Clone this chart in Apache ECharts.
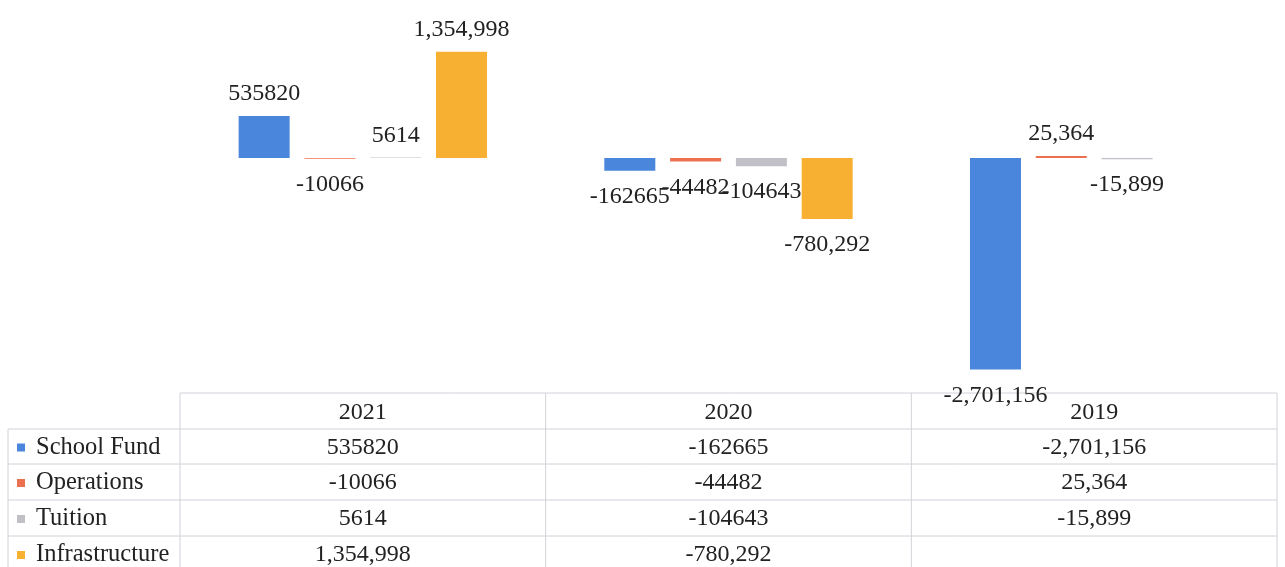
<!DOCTYPE html>
<html>
<head>
<meta charset="utf-8">
<script src="https://cdn.jsdelivr.net/npm/echarts@6/dist/echarts.min.js"></script>
<style>
  html, body { margin: 0; padding: 0; background: #fff; }
  #chart { width: 1285px; height: 567px; }
</style>
</head>
<body>
<div id="chart"></div>
<script>
// categories (table header)
const years = ['2021', '2020', '2019'];

// series values
const schoolFund = [535820, -162665, -2701156];
const operations = [-10066, -44482, 25364];
const tuition = [5614, -104643, -15899];
const infrastructure = [1354998, -780292, null];

// value texts as printed in the table / labels
const schoolFundText = ['535820', '-162665', '-2,701,156'];
const operationsText = ['-10066', '-44482', '25,364'];
const tuitionText = ['5614', '-104643', '-15,899'];
const infrastructureText = ['1,354,998', '-780,292', ''];

const seriesNames = ['School Fund', 'Operations', 'Tuition', 'Infrastructure'];
const colors = ['#4a86dc', '#ec7050', '#c0c0c6', '#f7b032'];

const allValues = [schoolFund, operations, tuition, infrastructure];
const allTexts = [schoolFundText, operationsText, tuitionText, infrastructureText];

const font = '"Liberation Serif", "DejaVu Serif", serif';
const textColor = '#222';

const chart = echarts.init(document.getElementById('chart'));

const gridLeft = 180, gridRight = 8, gridTop = 17, gridBottom = 182;

const series = seriesNames.map((name, s) => ({
  name: name,
  type: 'bar',
  barWidth: 51,
  barGap: '29%',
  itemStyle: { color: colors[s] },
  data: allValues[s].map((v, i) => ({
    value: v,
    label: {
      show: v !== null,
      position: v >= 0 ? 'top' : 'bottom',
      distance: v >= 0 ? 10 : 14,
      formatter: () => allTexts[s][i],
      fontFamily: font,
      fontSize: 24,
      color: textColor
    }
  }))
}));

chart.setOption({
  animation: false,
  color: colors,
  grid: { left: gridLeft, right: gridRight, top: gridTop, bottom: gridBottom },
  xAxis: {
    type: 'category',
    data: years,
    axisLine: { show: false, onZero: false },
    axisTick: { show: false },
    axisLabel: { margin: 16, fontFamily: font, fontSize: 24, color: textColor }
  },
  yAxis: {
    type: 'value',
    min: -2900000,
    max: 1800000,
    show: false,
    splitLine: { show: false }
  },
  series: series
});

// data table under the plot
const W = 1285;
const lineColor = '#d2d2da';
const tableLeft = 8, tableRight = W - gridRight;
const headerTop = 393;
const rowLines = [429, 464, 500, 536, 572];
const colLines = [gridLeft];
years.forEach((y, i) => {
  colLines.push(gridLeft + (W - gridLeft - gridRight) * (i + 1) / years.length);
});

const els = [];
const line = (x1, y1, x2, y2) => els.push({
  type: 'line', silent: true,
  shape: { x1: x1, y1: y1, x2: x2, y2: y2 },
  style: { stroke: lineColor, lineWidth: 1 }
});

line(gridLeft, headerTop, tableRight, headerTop);
rowLines.forEach(y => line(tableLeft, y, tableRight, y));
line(tableLeft, rowLines[0], tableLeft, 567);
colLines.forEach(x => line(x, headerTop, x, 567));

seriesNames.forEach((name, s) => {
  const cy = (rowLines[s] + rowLines[s + 1]) / 2 + 1;
  els.push({
    type: 'rect', silent: true,
    shape: { x: 17, y: cy - 4, width: 8, height: 8 },
    style: { fill: colors[s] }
  });
  els.push({
    type: 'text', silent: true, x: 36, y: cy,
    style: { text: name, font: '24.5px ' + font, fill: textColor, verticalAlign: 'middle' }
  });
  years.forEach((yr, i) => {
    const cx = chart.convertToPixel({ xAxisIndex: 0 }, yr);
    els.push({
      type: 'text', silent: true, x: cx, y: cy,
      style: { text: allTexts[s][i], font: '24px ' + font, fill: textColor, align: 'center', verticalAlign: 'middle' }
    });
  });
});

chart.setOption({ graphic: { elements: els } });
</script>
</body>
</html>
